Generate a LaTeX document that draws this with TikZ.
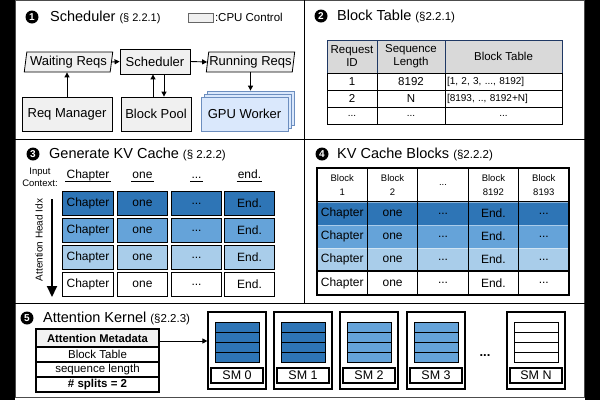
\documentclass[tikz,border=0pt]{standalone}
\usepackage{fontspec}
\setmainfont{Liberation Sans}
\usetikzlibrary{shapes.geometric,arrows.meta}
\definecolor{dblue}{HTML}{2E75B6}
\definecolor{mblue}{HTML}{65A3D9}
\definecolor{lblue}{HTML}{A9CDEA}
\definecolor{boxgray}{HTML}{F0F0F0}
\definecolor{hdrgray}{HTML}{D9D9D9}
\definecolor{metagray}{HTML}{F2F2F2}
\definecolor{navy}{HTML}{1F3864}
\definecolor{gpufill}{HTML}{DAE8FC}
\definecolor{gpuedge}{HTML}{6C8EBF}
\newcommand{\fsz}[2][]{\fontsize{#2}{#2}\selectfont}
\newcommand{\myell}{...}
\begin{document}
\begin{tikzpicture}[x=1pt,y=-1pt,
  num/.style={circle,fill=black,text=white,inner sep=0,minimum size=13,font=\fsz{10}\bfseries},
  ttl/.style={anchor=west,inner sep=0,font=\fsz{14.5}},
  cpubox/.style={draw=black,fill=boxgray,line width=0.8,inner sep=0,font=\fsz{13}},
  para/.style={cpubox,trapezium,trapezium left angle=79,trapezium right angle=101,trapezium stretches=true},
  gpubox/.style={draw=gpuedge,fill=gpufill,line width=0.8,inner sep=0,minimum width=87,minimum height=34,font=\fsz{13}},
  arr/.style={-{Triangle[length=5pt,width=5pt]},line width=0.9},
  bigarr/.style={-{Triangle[length=11pt,width=10pt]},line width=2},
  hcell/.style={draw=navy,fill=hdrgray,line width=1,inner sep=0,align=center,minimum height=33,font=\fontsize{11.5}{13}\selectfont},
  bcell/.style={draw=black,line width=1,inner sep=0,minimum height=17,font=\fsz{11.5}},
  kvcell/.style={draw=black,line width=1.4,inner sep=0,minimum width=50.5,minimum height=23.5,font=\fsz{12}},
  hw/.style={inner sep=1,text height=8.7,text depth=2.5,font=\fsz{12}},
  blkcell/.style={inner sep=0,minimum width=50.4,font=\fsz{12}},
  blkhdr/.style={draw=black,line width=1.3,inner sep=0,minimum width=50.4,minimum height=34,align=center,font=\fontsize{9.5}{14}\selectfont},
  mcell/.style={draw=black,line width=1.2,inner sep=0,minimum width=123,minimum height=15,font=\fsz{11.5}},
  smbox/.style={draw=black,line width=1.2,inner sep=0,minimum width=58,minimum height=77},
  smrow/.style={draw=black,line width=0.9,inner sep=0,minimum width=44,minimum height=10},
  smlab/.style={draw=black,line width=1.5,inner sep=0,minimum width=52,minimum height=15,font=\fsz{12.5}}
]
\useasboundingbox (0,0) rectangle (600,400);
\fill[black] (0,0) rectangle (600,400);
\fill[white] (15,0) rectangle (585,400);
\draw[black!70,line width=1] (15.5,0.5) rectangle (584.5,397);
\draw[line width=1] (15,139) -- (585,139);
\draw[line width=1] (15,303) -- (585,303);
\draw[line width=1] (304,0) -- (304,303);

% ---------- Panel 1
\node[num] (n1) at (32,17) {1};
\node[ttl] (t1) at (50,17) {Scheduler {\fsz{11}(§ 2.2.1)}};
\node[draw=black!60,fill=boxgray,line width=0.6,minimum width=25,minimum height=9,inner sep=0] (leg) at (200.5,17.5) {};
\node[anchor=west,inner sep=1.5,font=\fsz{11.5}] (legt) at (leg.east) {:CPU Control};

\node[para,minimum width=89,minimum height=20] (wait) at (68.5,62) {Waiting Reqs};
\node[cpubox,minimum width=70,minimum height=25] (sched) at (155,61.5) {Scheduler};
\node[para,minimum width=89,minimum height=20] (run) at (250.5,62) {Running Reqs};
\node[cpubox,minimum width=90,minimum height=34] (reqm) at (67,114) {Req Manager};
\node[cpubox,minimum width=70,minimum height=34] (bpool) at (156,114) {Block Pool};
\node[gpubox] (gpub) at (250.5,108) {};
\node[gpubox] (gpum) at (247.5,111) {};
\node[gpubox] (gpu) at (244.5,114) {GPU Worker};

\draw[arr] (wait.east) -- (sched.west);
\draw[arr] (sched.east) -- (run.west);
\draw[arr] (reqm.north) -- (reqm.north |- wait.south);
\coordinate (bpu) at ([xshift=-3pt]bpool.north);
\coordinate (bpd) at ([xshift=8pt]bpool.north);
\draw[arr] (bpu) -- (bpu |- sched.south);
\draw[arr] (bpd |- sched.south) -- (bpd);
\draw[arr] (run.south) -- (run.south |- gpub.north);

% ---------- Panel 2
\node[num] (n2) at (321,16) {2};
\node[ttl] (t2) at (337,16) {Block Table {\fsz{11.5}(§2.2.1)}};
\node[hcell,minimum width=50] (h1) at (352,56.5) {Request\\ID};
\node[hcell,minimum width=68] (h2) at (411,56.5) {Sequence\\Length};
\node[hcell,minimum width=117] (h3) at (503.5,56.5) {Block Table};
\node[bcell,minimum width=50] (r11) at (352,81.5) {1};
\node[bcell,minimum width=68] (r12) at (411,81.5) {8192};
\node[bcell,minimum width=117,text width=113,align=left,font=\fsz{10}] (r13) at (503.5,81.5) {[1, 2, 3, ..., 8192]};
\node[bcell,minimum width=50] (r21) at (352,98.5) {2};
\node[bcell,minimum width=68] (r22) at (411,98.5) {N};
\node[bcell,minimum width=117,text width=113,align=left,font=\fsz{10}] (r23) at (503.5,98.5) {[8193, .., 8192+N]};
\node[bcell,minimum width=50,font=\fsz{10}] (r31) at (352,115.5) {...};
\node[bcell,minimum width=68,font=\fsz{10}] (r32) at (411,115.5) {...};
\node[bcell,minimum width=117,font=\fsz{10}] (r33) at (503.5,115.5) {...};

% ---------- Panel 3
\node[num] (n3) at (33,154) {3};
\node[ttl] (t3) at (49,154) {Generate KV Cache {\fsz{11.5}(§ 2.2.2)}};
\node[align=center,inner sep=0,font=\fontsize{9.5}{11.5}\selectfont] (inctx) at (40,177.5) {Input\\Context:};
\node[hw] (hw1) at (88,175) {Chapter};
\node[hw] (hw2) at (142.5,175) {one};
\node[hw] (hw3) at (196.5,175) {...};
\node[hw] (hw4) at (249.5,175) {end.};
\foreach \i in {1,2,3,4} \draw[line width=1.2] (hw\i.south west) -- (hw\i.south east);
\foreach \r/\y/\col in {1/203.5/dblue,2/230.5/mblue,3/257.5/lblue,4/284.5/white} {
  \foreach \c/\x/\t in {1/88/Chapter,2/142.5/one,3/196.5/\myell,4/249.5/End.} {
    \node[kvcell,fill=\col] (g\r\c) at (\x,\y) {\t};
  }
}
\node[rotate=90,inner sep=0,font=\fsz{10}] (ahl) at (39,240) {Attention Head Idx};
\coordinate (aht) at (52,199);
\coordinate (ahb) at (52,297);
\draw[bigarr] (aht) -- (ahb);

% ---------- Panel 4
\node[num] (n4) at (322,154) {4};
\node[ttl] (t4) at (337,154) {KV Cache Blocks {\fsz{11.5}(§2.2.2)}};
\foreach \c/\x/\t in {1/342.2/Block\\1,2/392.6/Block\\2,3/443/\myell,4/493.4/Block\\8192,5/543.8/Block\\8193} {
  \node[blkhdr] (kh\c) at (\x,185) {\t};
}
\foreach \r/\y/\h/\col in {1/213.5/23/dblue,2/236.5/23/mblue,3/259.5/23/lblue} {
  \foreach \c/\x/\t in {1/342.2/Chapter,2/392.6/one,3/443/\myell,4/493.4/End.,5/543.8/\myell} {
    \node[blkcell,minimum height=\h,fill=\col,draw=\col!55!white,line width=0.8] (k\r\c) at (\x,\y) {\t};
  }
}
\foreach \c/\x/\t in {1/342.2/Chapter,2/392.6/one,3/443/\myell,4/493.4/End.,5/543.8/\myell} {
  \node[blkcell,minimum height=24,draw=black,line width=1.3] (k4\c) at (\x,283) {\t};
}
\draw[line width=1.3] (317,168) rectangle (569,295);
\foreach \x in {367.4,417.8,468.2,518.6} \draw[line width=1.3] (\x,202) -- (\x,271);
\draw[line width=1.3] (317,271) -- (569,271);

% ---------- Panel 5
\node[num] (n5) at (27,318) {5};
\node[ttl] (t5) at (43,318) {Attention Kernel {\fsz{11.5}(§2.2.3)}};
\node[mcell,minimum height=18,fill=metagray,font=\fsz{11.2}\bfseries] (m0) at (97.5,338) {Attention Metadata};
\node[mcell] (m1) at (97.5,354.5) {Block Table};
\node[mcell] (m2) at (97.5,369.5) {sequence length};
\node[mcell,font=\fsz{11.5}\bfseries] (m3) at (97.5,384.5) {\# splits = 2};
\foreach \i/\x/\col/\lab in {0/237/dblue/SM 0,1/303/dblue/SM 1,2/369/mblue/SM 2,3/436/mblue/SM 3,N/536/white/SM N} {
  \node[smbox] (sm\i) at (\x,350.5) {};
  \foreach \k/\y in {1/327,2/337,3/347,4/357} {
    \node[smrow,fill=\col] (sm\i r\k) at (\x,\y) {};
  }
  \node[smlab] (sm\i l) at (\x,375.5) {\lab};
}
\node[inner sep=0,font=\fsz{13}\bfseries] (smdots) at (485,356) {...};
\coordinate (ma) at ([yshift=-3pt]m0.east);
\draw[arr] (ma) -- (ma -| sm0.west);
\end{tikzpicture}
\end{document}
